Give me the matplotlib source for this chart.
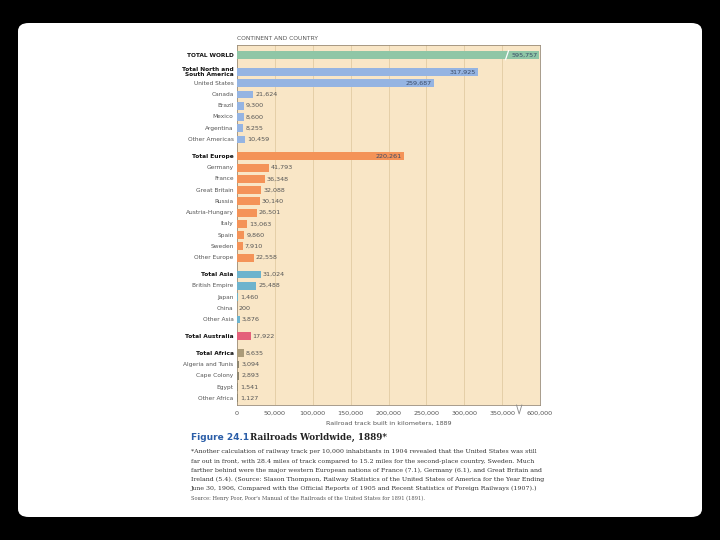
import numpy as np
import matplotlib
matplotlib.use('Agg')
import matplotlib.pyplot as plt
from matplotlib.patches import FancyBboxPatch

labels = ['TOTAL WORLD', 'Total North and\nSouth America', 'United States', 'Canada', 'Brazil',
          'Mexico', 'Argentina', 'Other Americas',
          'Total Europe', 'Germany', 'France', 'Great Britain', 'Russia', 'Austria-Hungary',
          'Italy', 'Spain', 'Sweden', 'Other Europe',
          'Total Asia', 'British Empire', 'Japan', 'China', 'Other Asia',
          'Total Australia',
          'Total Africa', 'Algeria and Tunis', 'Cape Colony', 'Egypt', 'Other Africa']
values = [595757, 317925, 259687, 21624, 9300, 8600, 8255, 10459,
          220261, 41793, 36348, 32088, 30140, 26501, 13063, 9860, 7910, 22558,
          31024, 25488, 1460, 200, 3876,
          17922,
          8635, 3094, 2893, 1541, 1127]
groups = ['world', 'amer', 'amer', 'amer', 'amer', 'amer', 'amer', 'amer',
          'eur', 'eur', 'eur', 'eur', 'eur', 'eur', 'eur', 'eur', 'eur', 'eur',
          'asia', 'asia', 'asia', 'asia', 'asia',
          'aus',
          'afr_tot', 'afr', 'afr', 'afr', 'afr']
totals = ['TOTAL WORLD', 'Total North and\nSouth America', 'Total Europe',
          'Total Asia', 'Total Australia', 'Total Africa']
tick_vals = [0, 50000, 100000, 150000, 200000, 250000, 300000, 350000, 400000]
tick_labels = ['0', '50,000', '100,000', '150,000', '200,000', '250,000',
               '300,000', '350,000', '600,000']

colors = {'world': '#8fc6a6', 'amer': '#95b4e2', 'eur': '#f49358', 'asia': '#6db3cd',
          'aus': '#e4607a', 'afr_tot': '#ab9b79', 'afr': '#8f8670'}

# row positions (extra half row gap before each total)
ypos = []
y = 0.0
for i, lab in enumerate(labels):
    if i > 0 and lab in totals:
        y += 0.5
    ypos.append(y)
    y += 1.0
ypos = np.array(ypos)


def brk(v):
    # axis is broken past 350,000; last tick stands for 600,000
    if v <= 350000:
        return v
    return 350000 + (v - 350000) * 50000 / 250000.


fig = plt.figure(figsize=(7.2, 5.4), dpi=100)
fig.patch.set_facecolor('black')
panel = FancyBboxPatch((18 / 720., 23 / 540.), 684 / 720., 494 / 540.,
                       boxstyle='round,pad=0,rounding_size=0.015',
                       transform=fig.transFigure, facecolor='white',
                       edgecolor='none', zorder=-5)
fig.patches.append(panel)

ax = fig.add_axes([237 / 720., 1 - 405 / 540., 303 / 720., 360 / 540.])
ax.set_zorder(2)
ax.set_facecolor('#f9e6c6')
widths = [brk(v) for v in values]
ax.barh(ypos, widths, height=0.7, color=[colors[g] for g in groups], zorder=3)

for yy, v, w, lab in zip(ypos, values, widths, labels):
    txt = '{:,}'.format(v)
    if v > 200000:
        ax.text(w - 2500, yy, txt, ha='right', va='center', fontsize=4.6,
                color='#3a4a66', zorder=4)
    else:
        ax.text(w + 2500, yy, txt, ha='left', va='center', fontsize=4.6,
                color='#555555', zorder=4)
    bold = lab in totals
    ax.text(-4500, yy, lab, ha='right', va='center', fontsize=4.2,
            fontweight='bold' if bold else 'normal',
            color='#111111' if bold else '#555555', linespacing=0.95)

# break marks
ax.plot([354500, 358500], [ypos[0] + 0.4, ypos[0] - 0.4], color='white', lw=0.9, zorder=4)
ax.plot([369000, 372500, 376000], [31.1, 31.9, 31.1], color='#888888', lw=0.6,
        clip_on=False, zorder=5)

ax.set_xlim(0, 400000)
ax.set_ylim(31.1, -0.9)
ax.set_xticks(tick_vals)
ax.set_xticklabels(tick_labels, fontsize=4.6, color='#555555')
ax.tick_params(axis='x', length=0, pad=4)
ax.set_yticks([])
for t in tick_vals[1:-1]:
    ax.axvline(t, color='#e5cfa8', lw=0.7, zorder=1)
for s in ax.spines.values():
    s.set_color('#9a8c78')
    s.set_linewidth(0.6)
ax.set_xlabel('Railroad track built in kilometers, 1889', fontsize=4.6,
              color='#555555', labelpad=4)

fig.text(237 / 720., 1 - 38 / 540., 'CONTINENT AND COUNTRY', fontsize=4.3,
         color='#555555', va='center', ha='left')

fig.text(191 / 720., 1 - 437 / 540., 'Figure 24.1', fontsize=6.5, color='#2b5ea8',
         fontweight='bold', va='center', ha='left', family='DejaVu Sans')
fig.text(250 / 720., 1 - 437 / 540., 'Railroads Worldwide, 1889*', fontsize=6.3,
         color='#222222', fontweight='bold', va='center', ha='left', family='DejaVu Serif')

caption = [
    '*Another calculation of railway track per 10,000 inhabitants in 1904 revealed that the United States was still',
    'far out in front, with 28.4 miles of track compared to 15.2 miles for the second-place country, Sweden. Much',
    'farther behind were the major western European nations of France (7.1), Germany (6.1), and Great Britain and',
    'Ireland (5.4). (Source: Slason Thompson, Railway Statistics of the United States of America for the Year Ending',
    'June 30, 1906, Compared with the Official Reports of 1905 and Recent Statistics of Foreign Railways (1907).)',
]
for i, line in enumerate(caption):
    fig.text(191 / 720., 1 - (452 + 9 * i) / 540., line, fontsize=4.5, color='#333333',
             va='center', ha='left', family='DejaVu Serif')
fig.text(191 / 720., 1 - 498 / 540.,
         "Source: Henry Poor, Poor's Manual of the Railroads of the United States for 1891 (1891).",
         fontsize=3.7, color='#555555', va='center', ha='left', family='DejaVu Serif')

fig.savefig('out.png', dpi=100, facecolor=fig.get_facecolor())
